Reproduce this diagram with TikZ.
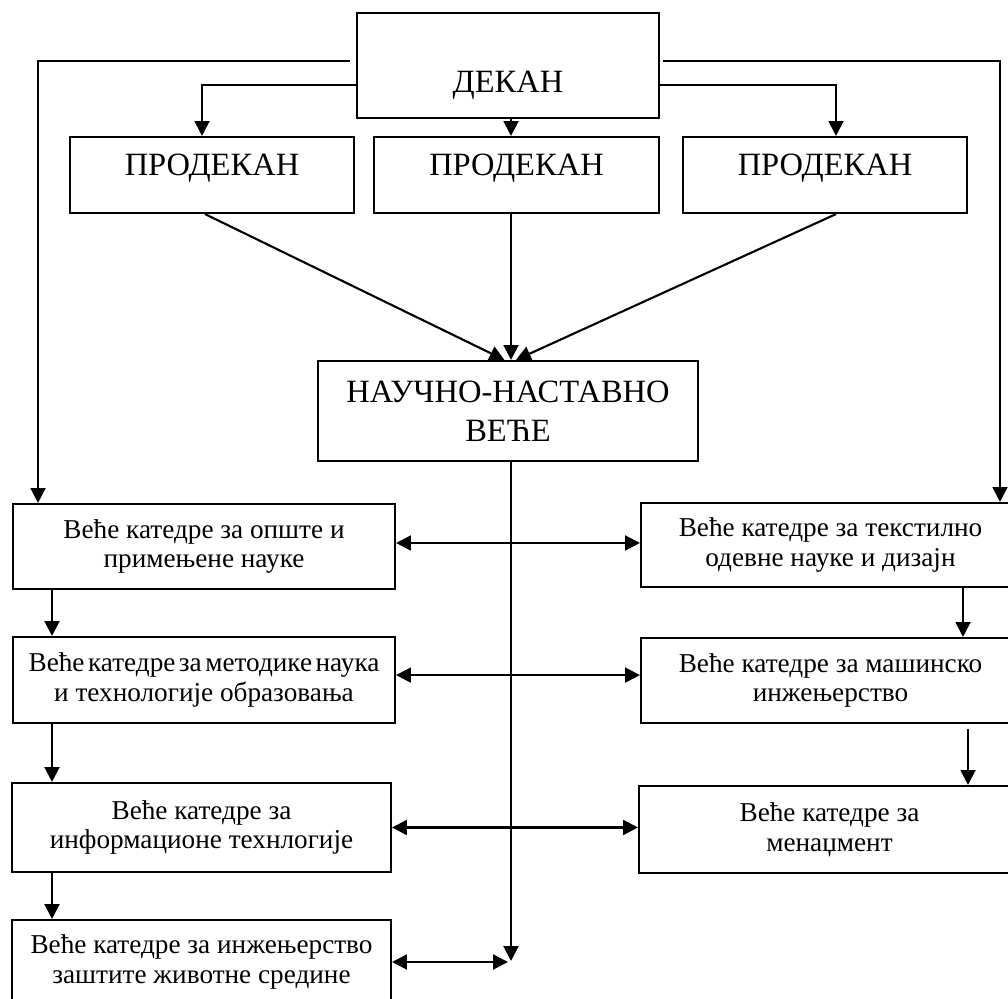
\documentclass[tikz,border=0pt]{standalone}
\usepackage{fontspec}
\setmainfont{Liberation Serif}
\usetikzlibrary{arrows.meta}

\begin{document}
\begin{tikzpicture}[x=0.02cm,y=-0.02cm,
  box/.style={draw,line width=1.2pt,align=center,inner sep=0pt},
  big/.style={box,font=\fontsize{18.5}{22}\selectfont},
  small/.style={box,font=\fontsize{15.5}{17}\selectfont},
  arr/.style={line width=1.2pt,-{Triangle[length=8.5pt,width=8.5pt]}},
  dbl/.style={line width=1.2pt,{Triangle[length=8.5pt,width=8.5pt]}-{Triangle[length=8.5pt,width=8.5pt]}}]
  \useasboundingbox (0,0) rectangle (1008,999);

  \node[big,minimum width=6.04cm,minimum height=2.1cm] (dekan) at (508,65.5) {\raisebox{-11pt}[\height][\depth]{ДЕКАН}};
  \foreach \i/\x in {1/212,2/516.5,3/825}
    \node[big,minimum width=5.69cm,minimum height=1.52cm] (p\i) at (\x,175) {\raisebox{4pt}[\height][\depth]{ПРОДЕКАН}};
  \node[big,minimum width=7.6cm,minimum height=2cm] (n) at (508,411) {НАУЧНО-НАСТАВНО\\ВЕЋЕ};

  \node[small,minimum width=7.64cm,minimum height=1.7cm] (l1) at (204,546.5) {Веће катедре за опште и\\примењене науке};
  \node[small,minimum width=7.64cm,minimum height=1.72cm] (l2) at (204,680) {\spaceskip=2pt\relax Веће катедре за методике наука\\и технологије образовања};
  \node[small,minimum width=7.58cm,minimum height=1.78cm] (l3) at (201.5,827.5) {Веће катедре за\\информационе технлогије};
  \node[small,minimum width=7.58cm,minimum height=1.68cm] (l4) at (201.5,962) {Веће катедре за инжењерство\\заштите животне средине};

  \node[small,minimum width=7.58cm,minimum height=1.68cm] (r1) at (830.5,545) {Веће катедре за текстилно\\одевне науке и дизајн};
  \node[small,minimum width=7.58cm,minimum height=1.7cm] (r2) at (830.5,680.5) {Веће катедре за машинско\\инжењерство};
  \node[small,minimum width=7.62cm,minimum height=1.74cm] (r3) at (829.5,829.5) {Веће катедре за\\менаџмент};

  \coordinate (dl) at (38,61);
  \coordinate (dr) at (1000,61);
  \coordinate (a1) at (202,85);
  \coordinate (a3) at (836,85);
  \coordinate (mid) at (511,961);
  \coordinate (lc) at (52,0);
  \coordinate (rc1) at (963,0);
  \coordinate (rc2) at (968,0);

  \draw[arr,shorten <=3.4pt] (dekan.west |- dl) -- (dl) -- (dl |- l1.north);
  \draw[arr,shorten <=1.7pt] (dekan.east |- dr) -- (dr) -- (dr |- r1.north);
  \draw[arr] (dekan.west |- a1) -- (a1) -- (a1 |- p1.north);
  \draw[arr] (dekan.east |- a3) -- (a3) -- (a3 |- p3.north);
  \draw[arr] (dekan.south -| mid) -- (p2.north -| mid);

  \draw[arr] ([xshift=-4pt]p1.south) -- ([xshift=-2pt]n.north);
  \draw[arr] (p2.south -| mid) -- (n.north -| mid);
  \draw[arr] ([xshift=6.3pt]p3.south) -- ([xshift=4.5pt]n.north);
  \draw[arr] (n.south -| mid) -- (mid);

  \foreach \a/\b in {l1/l2,l2/l3,l3/l4}
    \draw[arr] (\a.south -| lc) -- (\b.north -| lc);
  \draw[arr] (r1.south -| rc1) -- (r2.north -| rc1);
  \draw[arr,shorten <=2.8pt] (r2.south -| rc2) -- (r3.north -| rc2);

  \foreach \a/\b/\s in {l1/r1/2pt,l2/r2/2.8pt,l3/r3/0pt}
    \draw[dbl] ([yshift=\s]\a.east) coordinate (s) -- (s -| \b.west);
  \draw[dbl,shorten >=1.7pt] (l4.east) -- (l4.east -| mid);
\end{tikzpicture}
\end{document}
